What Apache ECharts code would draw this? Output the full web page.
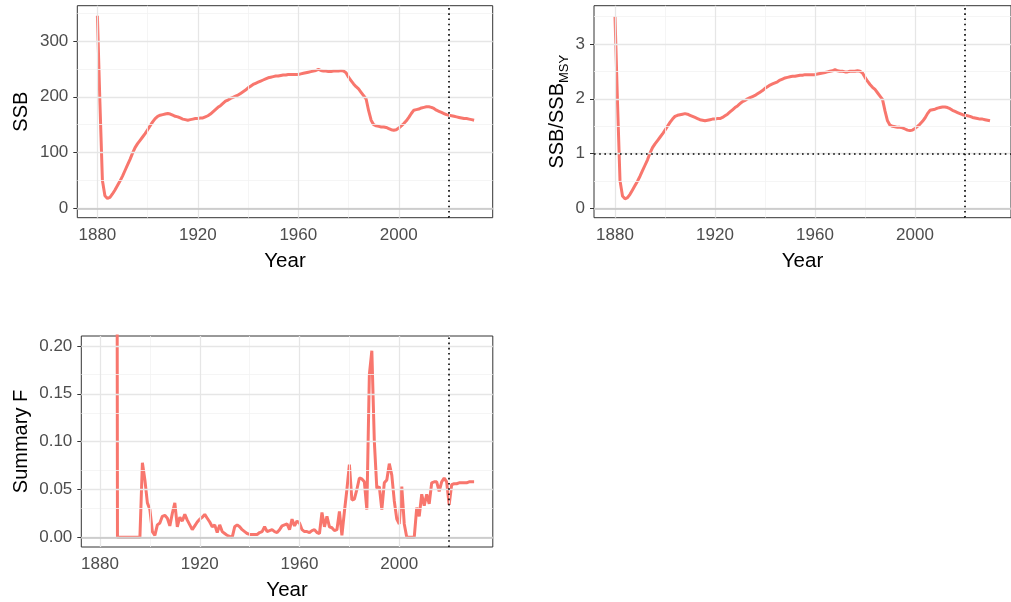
<!DOCTYPE html>
<html><head><meta charset="utf-8">
<script src="https://cdn.jsdelivr.net/npm/echarts@6/dist/echarts.min.js"></script>
<style>html,body{margin:0;padding:0;background:#fff}#c{width:1011px;height:602px}</style>
</head><body><div id="c"></div>
<script>
// ---- data (one value per year, starting at firstYear) ----
const firstYear = 1880;
const ssb = [
  345,190,50,23,18,20,26,33,41,49,
  58,68,78,88,99,109,116,122,128,134,
  141,148,155,161,165,167,168,169,170,169,
  167,165,164,162,160,159,158,159,160,161,
  161,162,162,164,166,169,173,177,181,184,
  188,192,194,197,199,201,203,206,209,212,
  216,219,222,224,226,228,230,232,234,235,
  236,237,237,238,239,239,240,240,240,240,
  240,241,242,243,244,245,246,247,249,247,
  246,246,245,245,246,246,246,247,246,243,
  235,229,223,218,214,208,202,196,175,158,
  150,148,147,146,146,145,143,141,140,141,
  144,148,152,157,163,170,176,177,178,180,
  181,182,182,181,179,176,174,172,170,168,
  167,166,165,164,163,162,161,161,160,159,
  158
];
const ssbRatio = [
  3.50,1.93,0.51,0.23,0.18,0.20,0.26,0.34,0.42,0.50,
  0.59,0.69,0.79,0.89,1.01,1.11,1.18,1.24,1.30,1.36,
  1.43,1.50,1.57,1.63,1.68,1.70,1.71,1.72,1.73,1.72,
  1.70,1.68,1.66,1.64,1.62,1.61,1.60,1.61,1.62,1.63,
  1.63,1.64,1.64,1.66,1.69,1.72,1.76,1.80,1.84,1.87,
  1.91,1.95,1.97,2.00,2.02,2.04,2.06,2.09,2.12,2.15,
  2.19,2.22,2.25,2.27,2.29,2.31,2.34,2.36,2.38,2.39,
  2.40,2.41,2.41,2.42,2.43,2.43,2.44,2.44,2.44,2.44,
  2.44,2.45,2.46,2.47,2.48,2.49,2.50,2.51,2.53,2.51,
  2.50,2.50,2.49,2.49,2.50,2.50,2.50,2.51,2.50,2.47,
  2.39,2.32,2.26,2.21,2.17,2.11,2.05,1.99,1.78,1.60,
  1.52,1.50,1.49,1.48,1.48,1.47,1.45,1.43,1.42,1.43,
  1.46,1.50,1.54,1.59,1.65,1.73,1.79,1.80,1.81,1.83,
  1.84,1.85,1.85,1.84,1.82,1.79,1.77,1.75,1.73,1.71,
  1.70,1.69,1.68,1.66,1.65,1.64,1.63,1.63,1.62,1.61,
  1.60
];
const summaryF = [
  0.9,2.4,2.8,1.6,1.2,1.5,2.0,0,0,0,
  0,0,0,0,0,0,0,0.078,0.060,0.036,
  0.029,0.006,0.002,0.013,0.015,0.022,0.023,0.020,0.012,0.025,
  0.036,0.011,0.021,0.017,0.024,0.018,0.013,0.008,0.012,0.016,
  0.019,0.021,0.024,0.020,0.016,0.011,0.013,0.005,0.013,0.006,
  0.004,0.002,0.001,0.000,0.011,0.013,0.011,0.008,0.006,0.004,
  0.003,0.003,0.003,0.003,0.005,0.006,0.011,0.006,0.007,0.008,
  0.006,0.005,0.008,0.012,0.013,0.014,0.008,0.019,0.012,0.017,
  0.015,0.008,0.006,0.006,0.005,0.007,0.008,0.005,0.004,0.026,
  0.011,0.022,0.011,0.010,0.007,0.008,0.027,0.002,0.027,0.050,
  0.076,0.039,0.040,0.050,0.062,0.061,0.058,0.029,0.170,0.195,
  0.100,0.051,0.053,0.029,0.057,0.060,0.077,0.065,0.038,0.019,
  0.014,0.053,0.014,0.000,0.000,0.000,0.000,0.031,0.022,0.045,
  0.033,0.045,0.035,0.057,0.058,0.058,0.048,0.058,0.062,0.058,
  0.034,0.055,0.056,0.056,0.057,0.057,0.057,0.057,0.058,0.058,
  0.058
];
// ---- tick / reference values ----
const xMajor = [1880, 1920, 1960, 2000];
const xMinor = [1900, 1940, 1980, 2020];
const ssbMajor = [0, 100, 200, 300];
const ssbMinor = [50, 150, 250, 350];
const ratioMajor = [0, 1, 2, 3];
const ratioMinor = [0.5, 1.5, 2.5, 3.5];
const fMajor = [0, 0.05, 0.10, 0.15, 0.20];
const fMinor = [0.025, 0.075, 0.125, 0.175];
const refYear = 2020;
const ratioRef = 1;

// ---- build ----
const FONT = '"Liberation Sans", Arial, sans-serif';
const RED = '#F8766D';
function pairs(arr){ return arr.map((v,i)=>[firstYear+i, v]); }

const grids = [
  {left:77.3, top:5.7, width:415.4, height:212},
  {left:594, top:5.7, width:430, height:212},
  {left:81.3, top:336, width:411.5, height:212.7}
];
const xRanges = [[1872.0,2037.4],[1871.6,2038.4],[1872.5,2037.5]];
const yRanges = [[-16.5,363],[-0.165,3.695],[-0.0101,0.2104]];
const yMaj = [ssbMajor, ratioMajor, fMajor];
const yMin = [ssbMinor, ratioMinor, fMinor];
const yFmt = [v=>String(v), v=>String(v), v=>v.toFixed(2)];
const yNames = ['SSB', '{a|SSB/SSB}{b|MSY}', 'Summary F'];
const yGaps = [46, 27, 50];
const series = [pairs(ssb), pairs(ssbRatio), pairs(summaryF)];

const option = {
  animation:false,
  backgroundColor:'#fff',
  grid: grids.map(g=>Object.assign({show:true, borderColor:'#333', borderWidth:1, backgroundColor:'#fff', containLabel:false}, g)),
  xAxis: grids.map((g,i)=>({
    type:'value', gridIndex:i, min:xRanges[i][0], max:xRanges[i][1],
    name:'Year', nameLocation:'middle', nameGap:33,
    nameTextStyle:{fontSize:20.5, color:'#000', fontFamily:FONT},
    axisLine:{show:false},
    axisTick:{show:true, customValues:xMajor, length:4, lineStyle:{color:'#333', width:1}},
    axisLabel:{customValues:xMajor, formatter:v=>String(v), fontSize:17, color:'#4d4d4d', margin:9, fontFamily:FONT},
    splitLine:{show:false}
  })),
  yAxis: grids.map((g,i)=>({
    type:'value', gridIndex:i, min:yRanges[i][0], max:yRanges[i][1],
    name:yNames[i], nameLocation:'middle', nameGap:yGaps[i], nameRotate:90,
    nameTextStyle:{fontSize:20, color:'#000', fontFamily:FONT,
      rich:{a:{fontSize:20, color:'#000', fontFamily:FONT}, b:{fontSize:13, color:'#000', fontFamily:FONT, verticalAlign:'bottom', padding:[0,0,-4,0]}}},
    axisLine:{show:false},
    axisTick:{show:true, customValues:yMaj[i], length:4, lineStyle:{color:'#333', width:1}},
    axisLabel:{customValues:yMaj[i], formatter:yFmt[i], fontSize:17, color:'#4d4d4d', margin:9, fontFamily:FONT},
    splitLine:{show:false}
  })),
  series: []
};

grids.forEach((g,i)=>{
  const ml = [];
  xMinor.forEach(v=>ml.push({xAxis:v, lineStyle:{color:'#f2f2f2', width:0.8, type:'solid'}}));
  yMin[i].forEach(v=>{ if (v>yRanges[i][0] && v<yRanges[i][1]) ml.push({yAxis:v, lineStyle:{color:'#f2f2f2', width:0.8, type:'solid'}}); });
  xMajor.forEach(v=>ml.push({xAxis:v, lineStyle:{color:'#e6e6e6', width:1.3, type:'solid'}}));
  yMaj[i].forEach(v=>ml.push({yAxis:v, lineStyle:{color:'#e6e6e6', width:1.3, type:'solid'}}));
  ml.push({yAxis:0, lineStyle:{color:'#c4c4c4', width:1.6, type:'solid'}});
  option.series.push({
    type:'line', xAxisIndex:i, yAxisIndex:i, data:[], silent:true, z:1,
    markLine:{symbol:'none', silent:true, animation:false, label:{show:false}, data:ml}
  });
  option.series.push({
    type:'line', xAxisIndex:i, yAxisIndex:i, data:series[i], showSymbol:false, clip:true, z:2,
    lineStyle:{color:RED, width:3}, itemStyle:{color:RED}
  });
  const dots = [{xAxis:refYear}];
  if (i===1) dots.push({yAxis:ratioRef});
  option.series.push({
    type:'line', xAxisIndex:i, yAxisIndex:i, data:[], silent:true, z:3,
    markLine:{symbol:'none', silent:true, animation:false, label:{show:false},
      lineStyle:{color:'#000', width:1.6, type:[1.6,3.6]}, data:dots}
  });
});

const chart = echarts.init(document.getElementById('c'), null, {renderer:'canvas'});
chart.setOption(option);
</script>
</body></html>
